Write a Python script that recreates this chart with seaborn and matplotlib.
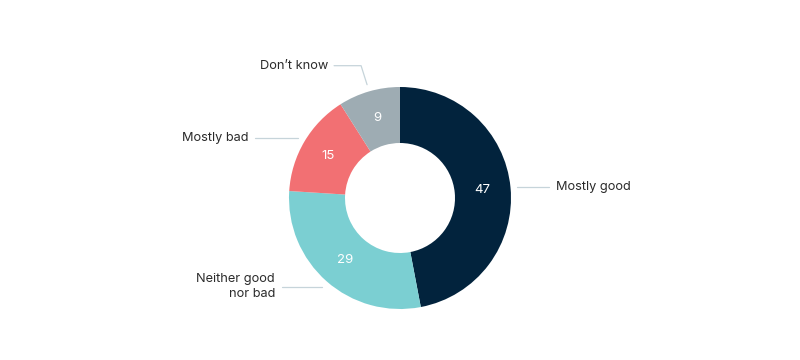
import numpy as np
import matplotlib
matplotlib.use("Agg")
import matplotlib.pyplot as plt
import seaborn as sns

# ─────────── data ───────────
categories = ["Mostly good", "Neither good\nnor bad", "Mostly bad", "Don\u2019t know"]
values = [47, 29, 15, 9]
colors = ["#02233d", "#7bcfd2", "#f27073", "#9eacb3"]

LINE_COLOR = "#c6d4da"
TEXT_COLOR = "#2b2b2b"
FS = 9.2

sns.set_theme(style="white")
plt.rcParams["font.family"] = ["Inter", "DejaVu Sans"]

fig = plt.figure(figsize=(8, 3.6), dpi=100)
ax = fig.add_axes([0, 0, 1, 1])

R_OUT, R_IN = 111, 55
wedges, _ = ax.pie(
    values,
    colors=sns.color_palette(colors),
    startangle=90,
    counterclock=False,
    radius=R_OUT,
    wedgeprops=dict(width=R_OUT - R_IN, linewidth=0),
)
# centre of donut sits at pixel (400, 198) from top-left
ax.set_xlim(-400, 400)
ax.set_ylim(-162, 198)
ax.set_aspect("equal")
ax.axis("off")

for w, val, name in zip(wedges, values, categories):
    mid = np.deg2rad((w.theta1 + w.theta2) / 2)
    cx, cy = np.cos(mid), np.sin(mid)
    r_mid = (R_OUT + R_IN) / 2
    ax.text(r_mid * cx, r_mid * cy, str(val), color="white", fontsize=FS + 0.3,
            ha="center", va="center")

    x0, y0 = 118 * cx, 118 * cy
    if name.startswith("Don"):
        x1, y1 = x0 - 6, y0 + 19
        x2 = x1 - 27
        ax.plot([x0, x1, x2], [y0, y1, y1], color=LINE_COLOR, lw=0.9)
        ax.text(x2 - 6, y1, name, ha="right", va="center", fontsize=FS,
                color=TEXT_COLOR)
    elif cx > 0:
        x2 = x0 + 32
        ax.plot([x0, x2], [y0, y0], color=LINE_COLOR, lw=0.9)
        ax.text(x2 + 7, y0, name, ha="left", va="center", fontsize=FS,
                color=TEXT_COLOR)
    else:
        run = 43 if cy > 0 else 40
        x2 = x0 - run
        ax.plot([x0, x2], [y0, y0], color=LINE_COLOR, lw=0.9)
        ax.text(x2 - 7, y0, name, ha="right", va="center", fontsize=FS,
                color=TEXT_COLOR, multialignment="right", linespacing=1.25)

fig.savefig("out.png", dpi=100)
